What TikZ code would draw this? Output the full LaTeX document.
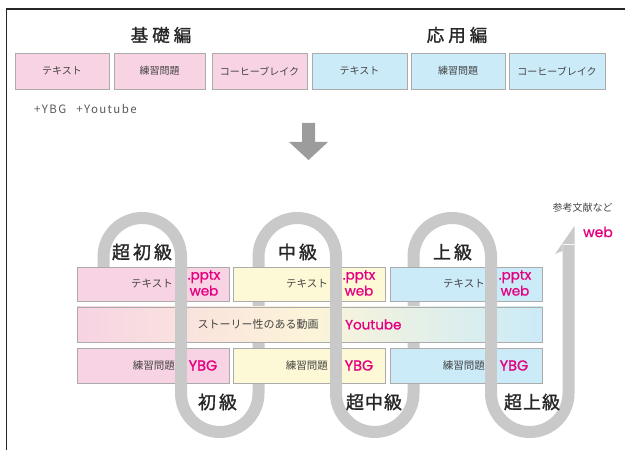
\documentclass[tikz,border=0pt]{standalone}
\usepackage{fontspec}
\setmainfont{Noto Sans CJK JP}
\newfontfamily\pop{Poppins}[FakeBold=1.0]
\newfontfamily\jpm{Noto Sans CJK JP}[FakeBold=1.4]
\newfontfamily\lsp{Noto Sans CJK JP}[LetterSpace=12]
\definecolor{pinkc}{HTML}{F7D3E3}
\definecolor{yellowc}{HTML}{FDF8D6}
\definecolor{bluec}{HTML}{CBEBF8}
\definecolor{midc}{HTML}{FCF4D8}
\definecolor{magc}{HTML}{E5007F}
\definecolor{trackc}{HTML}{C9C9C9}
\definecolor{borderc}{HTML}{ABABAB}
\definecolor{txtc}{HTML}{444444}
\definecolor{arrowc}{HTML}{9C9C9C}
\tikzset{
  topbox/.style={draw=borderc, line width=0.8pt, minimum height=36pt, inner sep=0pt,
    font=\fontsize{10}{12}\selectfont, text=txtc},
  rowbox/.style={draw=borderc, line width=0.8pt, minimum height=34pt, minimum width=152pt, inner sep=0pt},
  heading/.style={font=\fontsize{18}{20}\selectfont\jpm, text=black!85, inner sep=0pt},
  small/.style={font=\fontsize{10.5}{12}\selectfont, text=txtc, inner sep=0pt},
  mag/.style={font=\fontsize{13.5}{20}\selectfont\pop, text=magc, inner sep=0pt, align=center},
  track/.style={draw=trackc, line width=12pt},
}
\begin{document}
\begin{tikzpicture}[x=1pt,y=1pt]
\useasboundingbox (0,0) rectangle (625,450);
% frame
\draw[line width=1.5pt, black!85] (6.5,0) -- (6.5,441) -- (625,441);
% titles
\node[heading, font=\fontsize{17.5}{20}\selectfont\jpm] (t1) at (161,415) {基\hspace{4pt}礎\hspace{4pt}編};
\node[heading, font=\fontsize{17.5}{20}\selectfont\jpm] (t2) at (457,415) {応\hspace{4pt}用\hspace{4pt}編};
% top boxes
\node[topbox, fill=pinkc, minimum width=94pt] (a1) at (62,379) {テキスト};
\node[topbox, fill=pinkc, minimum width=91pt] (a2) at (159.5,379) {練習問題};
\node[topbox, fill=pinkc, minimum width=95pt] (a3) at (259.5,379) {コーヒーブレイク};
\node[topbox, fill=bluec, minimum width=95pt] (a4) at (359.5,379) {テキスト};
\node[topbox, fill=bluec, minimum width=94pt] (a5) at (458,379) {練習問題};
\node[topbox, fill=bluec, minimum width=96pt] (a6) at (557,379) {コーヒーブレイク};
\node[small, anchor=west, font=\fontsize{11.5}{12}\selectfont\lsp, text=black!65] (plus) at (34,341) {+YBG\hspace{10pt}+Youtube};
% big arrow
\fill[arrowc] (302,327) -- (315,327) -- (315,308) -- (328,308) -- (308.5,290) -- (289,308) -- (302,308) -- cycle;
% track (under boxes)
\draw[track] (103.5,175) -- (103.5,193.25)
  arc[start angle=180, end angle=0, radius=38.75] -- (181,56.75)
  arc[start angle=180, end angle=360, radius=38.75] -- (258.5,193.25)
  arc[start angle=180, end angle=0, radius=38.75] -- (336,56.75)
  arc[start angle=180, end angle=360, radius=38.75] -- (413.5,193.25)
  arc[start angle=180, end angle=0, radius=38.75] -- (491,56.75)
  arc[start angle=180, end angle=360, radius=38.75] -- (568.5,205);
\fill[trackc] (562.5,206) -- (562.5,199) -- (555,196) -- (574.5,224) -- (574.5,206) -- cycle;
% boxes
\node[rowbox, fill=pinkc] (p1) at (153,166) {};
\node[rowbox, fill=yellowc] (y1) at (309,166) {};
\node[rowbox, fill=bluec] (b1) at (466,166) {};
\shade[left color=pinkc, right color=bluec, middle color=midc] (77,108) rectangle (542,143);
\draw[borderc, line width=0.8pt] (77,108) rectangle (542,143);
\node[rowbox, minimum height=35pt, fill=pinkc] (p3) at (153,84.5) {};
\node[rowbox, minimum height=35pt, fill=yellowc] (y3) at (309,84.5) {};
\node[rowbox, minimum height=35pt, fill=bluec] (b3) at (466,84.5) {};
% track over boxes
\draw[track] (181,195) -- (181,55);
\draw[track] (336,195) -- (336,55);
\draw[track] (491,195) -- (491,55);
% row texts
\node[small, anchor=east] (tp) at (173,166) {テキスト};
\node[small, anchor=east] (ty) at (328,166) {テキスト};
\node[small, anchor=east] (tb) at (485,166) {テキスト};
\node[mag] (wp) at (204,167) {.pptx\\[-4pt]web};
\node[mag] (wy) at (359,167) {.pptx\\[-4pt]web};
\node[mag] (wb) at (515,167) {.pptx\\[-4pt]web};
\node[small, font=\fontsize{11}{12}\selectfont] (story) at (258,125.5) {ストーリー性のある動画};
\node[mag, anchor=west] (yt) at (345,125.5) {Youtube};
\node[small, anchor=east] (rp) at (175,84.5) {練習問題};
\node[small, anchor=east] (ry) at (328,84.5) {練習問題};
\node[small, anchor=east] (rb) at (485,84.5) {練習問題};
\node[mag, font=\fontsize{14.5}{16}\selectfont\pop] (gp) at (203,84.5) {YBG};
\node[mag, font=\fontsize{14.5}{16}\selectfont\pop] (gy) at (359,84.5) {YBG};
\node[mag, font=\fontsize{14.5}{16}\selectfont\pop] (gb) at (514,84.5) {YBG};
% level headings
\node[heading] (h1) at (142,198) {超\hspace{3pt}初\hspace{3pt}級};
\node[heading] (h2) at (297.5,198) {中\hspace{3pt}級};
\node[heading] (h3) at (452.5,198) {上\hspace{3pt}級};
\node[heading] (h4) at (217.5,48) {初\hspace{3pt}級};
\node[heading] (h5) at (374,48) {超\hspace{1pt}中\hspace{1pt}級};
\node[heading] (h6) at (532,48) {超\hspace{1pt}上\hspace{1pt}級};
% references
\node[small, font=\fontsize{10}{12}\selectfont] (ref) at (582.5,242) {参考文献など};
\node[mag, anchor=east, font=\fontsize{14}{16}\selectfont\pop] (rweb) at (613,218) {web};
\end{tikzpicture}
\end{document}
